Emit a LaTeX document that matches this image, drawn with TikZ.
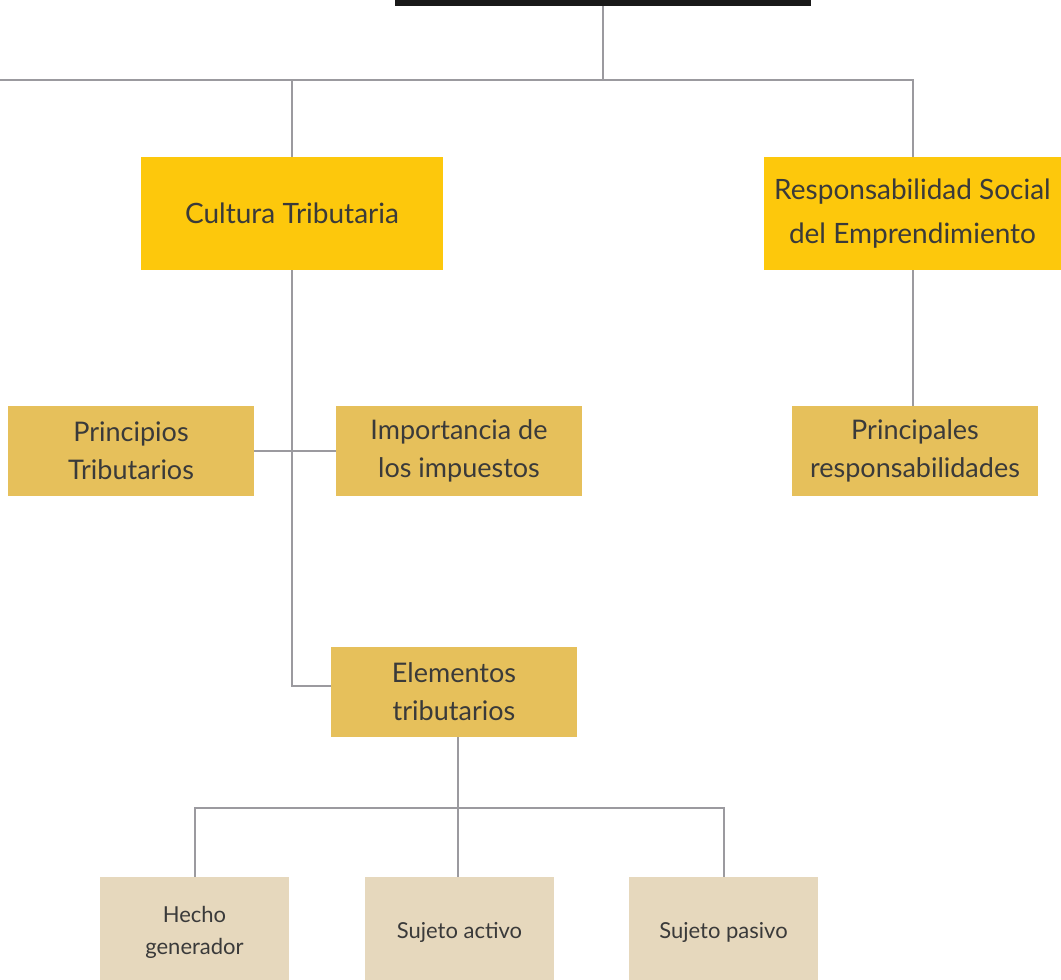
\documentclass[tikz,border=0pt]{standalone}
\usepackage{fontspec}
\setmainfont{Lato}
\usepackage{xcolor}
\usetikzlibrary{positioning}
\definecolor{amarillo}{HTML}{FDC80C}
\definecolor{ocre}{HTML}{E6C05B}
\definecolor{arena}{HTML}{E6D8BD}
\definecolor{gris}{HTML}{9B9A9F}
\definecolor{texto}{HTML}{3A3A3A}
\tikzset{
  nivelA/.style={fill=amarillo,text=texto,minimum width=151pt,minimum height=56.5pt,align=center,font=\fontsize{14}{22}\selectfont},
  nivelB/.style={fill=ocre,text=texto,minimum width=123pt,minimum height=45pt,align=center,font=\fontsize{13.5}{19}\selectfont},
  nivelC/.style={fill=arena,text=texto,minimum width=94.5pt,minimum height=55pt,align=center,font=\fontsize{11}{16}\selectfont},
  enlace/.style={draw=gris,line width=1pt}
}
\begin{document}
\begin{tikzpicture}[x=0.5pt,y=-0.5pt]
\clip (0,0) rectangle (1061,980);
\fill[white] (0,0) rectangle (1061,980);
% titulo
\node[fill=black!90,minimum width=208pt,minimum height=20pt,inner sep=0pt] (titulo) at (603,-14) {};
% primer nivel
\node[nivelA] (cultura) at (292,213.5) {Cultura Tributaria};
\node[nivelA,minimum width=148.5pt] (resp) at (912.5,213.5) {Responsabilidad Social\\del Emprendimiento};
% segundo nivel
\node[nivelB] (principios) at (131,451) {Principios\\Tributarios};
\node[nivelB] (importancia) at (459,451) {Importancia de\\los impuestos};
\node[nivelB] (principales) at (915,451) {Principales\\responsabilidades};
\node[nivelB] (elementos) at (454,692) {Elementos\\tributarios};
% tercer nivel
\node[nivelC] (hecho) at (194.5,932) {Hecho\\generador};
\node[nivelC] (activo) at (459.5,932) {Sujeto activo};
\node[nivelC] (pasivo) at (723.5,932) {Sujeto pasivo};
% conectores
\coordinate (raiz) at (603,80);
\coordinate (borde) at (0,80);
\draw[enlace] (titulo.south) -- (raiz);
\draw[enlace] (borde) -- (raiz -| resp) -- (resp.north);
\draw[enlace] (raiz -| cultura) -- (cultura.north);
\draw[enlace] (cultura.south) |- ([yshift=3pt]elementos.west);
\draw[enlace] (principios.east) -- (importancia.west);
\draw[enlace] (resp.south) -- (resp.south |- principales.north);
\coordinate (reparto) at (458,808);
\draw[enlace] ([xshift=2pt]elementos.south) -- (reparto);
\draw[enlace] (hecho.north) |- (reparto) -| (pasivo.north);
\draw[enlace] (reparto) -- (reparto |- activo.north);
\end{tikzpicture}
\end{document}
